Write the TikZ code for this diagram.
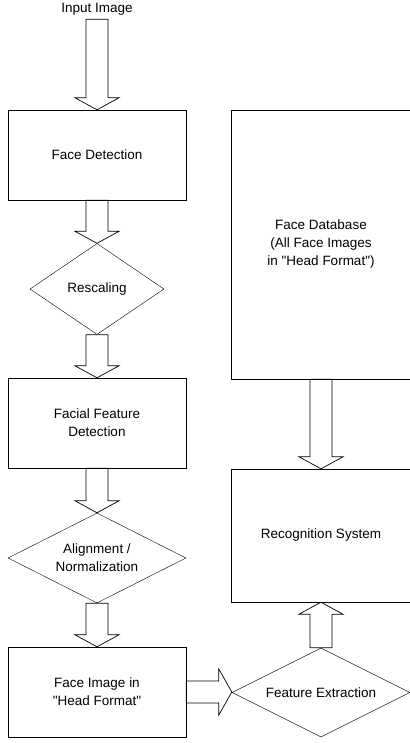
\documentclass[tikz,border=0pt]{standalone}
\usepackage{fontspec}
\newfontfamily\arialfont{Liberation Sans}
\usetikzlibrary{shapes.geometric,calc}

% hollow block arrows between two anchors
\newcommand{\downblock}[2]{%
  \draw[blockline] let \p1=(#1), \p2=(#2) in
    (\x1-11pt,\y1) -- (\x1-11pt,\y2+12pt) -- (\x1-22pt,\y2+12pt) -- (\x1,\y2)
    -- (\x1+22pt,\y2+12pt) -- (\x1+11pt,\y2+12pt) -- (\x1+11pt,\y1) -- cycle;
}
\newcommand{\upblock}[2]{%
  \draw[blockline] let \p1=(#1), \p2=(#2) in
    (\x1-11pt,\y1) -- (\x1-11pt,\y2-12pt) -- (\x1-22pt,\y2-12pt) -- (\x1,\y2)
    -- (\x1+22pt,\y2-12pt) -- (\x1+11pt,\y2-12pt) -- (\x1+11pt,\y1) -- cycle;
}
\newcommand{\rightblock}[2]{%
  \draw[blockline] let \p1=(#1), \p2=(#2) in
    (\x1,\y1+11pt) -- (\x2-13pt,\y1+11pt) -- (\x2-13pt,\y1+23pt) -- (\x2,\y1)
    -- (\x2-13pt,\y1-23pt) -- (\x2-13pt,\y1-11pt) -- (\x1,\y1-11pt) -- cycle;
}

\begin{document}
\begin{tikzpicture}[
    x=1pt, y=-1pt,
    font=\arialfont\fontsize{13.5}{18}\selectfont,
    stage/.style={rectangle, draw, minimum width=178pt, minimum height=90pt, inner sep=0, align=center},
    decision/.style={diamond, draw, aspect=2, inner sep=0, align=center},
    blockline/.style={line width=0.7pt}
]
    \useasboundingbox (0,0) rectangle (409,743);

    % Left column: preprocessing stages
    \node[inner sep=4pt] (input) at (97,9) {Input Image};
    \node[stage] (facedet) at (97,155) {Face Detection};
    \node[decision, minimum width=134pt, minimum height=91pt] (rescale) at (97,289) {Rescaling};
    \node[stage] (featdet) at (97,423) {Facial Feature\\Detection};
    \node[decision, minimum width=178pt, minimum height=90pt] (align) at (97,558) {Alignment /\\Normalization};
    \node[stage] (headfmt) at (97,692) {Face Image in\\"Head Format"};

    % Right column: database and recognition
    \node[stage, minimum width=180pt, minimum height=269pt] (database) at (321,244.5) {Face Database\\(All Face Images\\in "Head Format")};
    \node[stage, minimum width=180pt, minimum height=133pt] (recog) at (321,535.5) {Recognition System};
    \node[decision, minimum width=178pt, minimum height=89pt] (featext) at (321,692.5) {Feature Extraction};

    % Block arrows
    \downblock{input.south}{facedet.north}
    \downblock{facedet.south}{rescale.north}
    \downblock{rescale.south}{featdet.north}
    \downblock{featdet.south}{align.north}
    \downblock{align.south}{headfmt.north}
    \rightblock{headfmt.east}{featext.west}
    \upblock{featext.north}{recog.south}
    \downblock{database.south}{recog.north}
\end{tikzpicture}
\end{document}
